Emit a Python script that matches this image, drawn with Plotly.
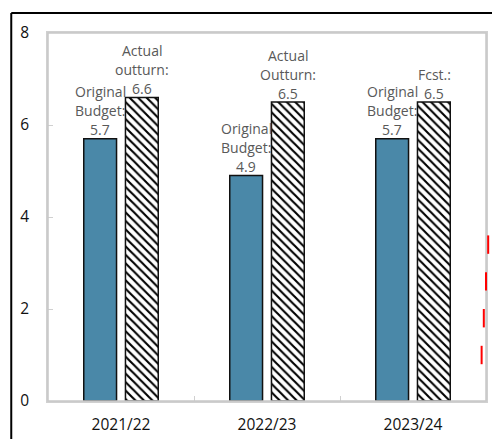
import plotly.graph_objects as go

categories = ["2021/22", "2022/23", "2023/24"]
budget_values = [5.7, 4.9, 5.7]
outturn_values = [6.6, 6.5, 6.5]
budget_labels = ["Original\nBudget:\n5.7", "Original\nBudget:\n4.9", "Original\nBudget:\n5.7"]
outturn_labels = ["Actual\noutturn:\n6.6", "Actual\nOutturn:\n6.5", "Fcst.:\n6.5"]
y_ticks = [0, 2, 4, 6, 8]

BLUE = "#4a88a8"
FONT = "Open Sans"

fig = go.Figure()
fig.add_trace(go.Bar(
    x=categories, y=budget_values, name="Original Budget",
    marker=dict(color=BLUE, line=dict(color="#111111", width=1.5)),
))
fig.add_trace(go.Bar(
    x=categories, y=outturn_values, name="Outturn",
    marker=dict(color="white", line=dict(color="#111111", width=1.5),
                pattern=dict(shape="\\", fgcolor="black", bgcolor="white",
                             size=6, solidity=0.35, fgopacity=1)),
))

annotations = []
line_h = 19
for vals, labels, dx in [(budget_values, budget_labels, -21), (outturn_values, outturn_labels, 21)]:
    for cat, v, lab in zip(categories, vals, labels):
        lines = lab.split("\n")
        n = len(lines)
        for i, ln in enumerate(lines):
            annotations.append(dict(
                x=cat, y=v, xref="x", yref="y", text=ln, showarrow=False,
                xshift=dx, yshift=9 + (n - 1 - i) * line_h, yanchor="middle",
                font=dict(family=FONT, size=14, color="#595959"),
            ))

shapes = [
    dict(type="rect", xref="paper", yref="paper", x0=0, x1=1, y0=0, y1=1,
         line=dict(color="#c8c8c8", width=1.5), layer="above"),
    dict(type="line", xref="paper", yref="paper", x0=-0.0839, x1=1.2,
         y0=1.0543, y1=1.0543, line=dict(color="black", width=2)),
    dict(type="line", xref="paper", yref="paper", x0=-0.0839, x1=-0.0839,
         y0=1.0543, y1=-0.2, line=dict(color="black", width=2)),
]
# diagnostic markers near the right edge
for i, xp in enumerate([0.99, 0.995, 1.0, 1.005]):
    shapes.append(dict(type="line", xref="paper", yref="paper", x0=xp, x1=xp,
                       y0=0.1 + 0.1 * i, y1=0.15 + 0.1 * i, line=dict(color="red", width=2)))

fig.update_layout(
    width=492, height=439,
    margin=dict(l=48, r=4, t=33, b=38),
    paper_bgcolor="white", plot_bgcolor="white",
    showlegend=False,
    barmode="group", bargap=0.4286, bargroupgap=0.214,
    font=dict(family=FONT, size=15.5, color="#111111"),
    annotations=annotations,
    shapes=shapes,
)
fig.update_xaxes(
    showline=True, mirror=True, linecolor="#d0d0d0", linewidth=1.5,
    ticks="inside", ticklen=5, tickcolor="#d0d0d0", tickson="boundaries",
    showgrid=False, tickfont=dict(size=15.5, color="#111111"),
    ticklabelstandoff=9,
)
fig.update_yaxes(
    range=[0, 8], tickvals=y_ticks,
    showline=True, mirror=True, linecolor="#d0d0d0", linewidth=1.5,
    ticks="inside", ticklen=5, tickcolor="#d0d0d0",
    showgrid=False, zeroline=False, ticklabelstandoff=14,
    tickfont=dict(size=15.5, color="#111111"),
)

fig.write_html("out.html")
